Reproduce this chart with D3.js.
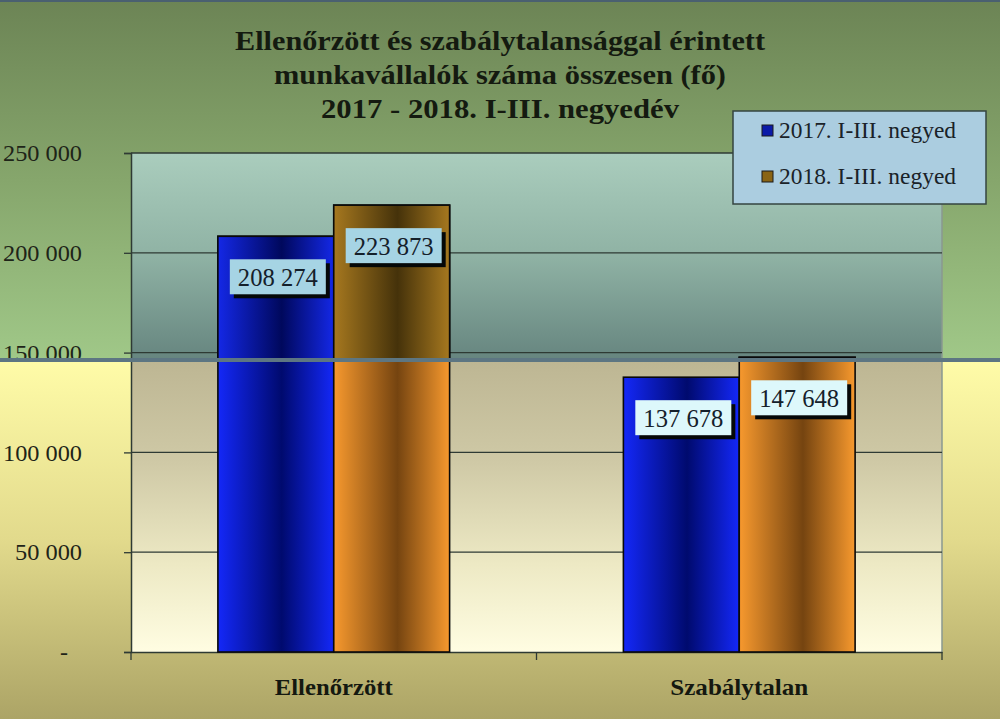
<!DOCTYPE html>
<html>
<head>
<meta charset="utf-8">
<script src="https://cdn.jsdelivr.net/npm/d3@7"></script>
<style>
  html, body { margin: 0; padding: 0; background: #fff; }
  svg { display: block; }
  text { font-family: 'Liberation Serif', 'Times New Roman', serif; }
</style>
</head>
<body>
<div id="chart"></div>
<script>
// data
const categories = ['Ellenőrzött', 'Szabálytalan'];
const seriesNames = ['2017. I-III. negyed', '2018. I-III. negyed'];
const values2017 = [208274, 137678];
const values2018 = [223873, 147648];
const yTicks = [0, 50000, 100000, 150000, 200000, 250000];
const titleLines = [
    'Ellenőrzött és szabálytalansággal érintett',
    'munkavállalók száma összesen (fő)',
    '2017 - 2018.  I-III. negyedév'
];

const W = 1000, H = 719;
const plot = {left: 131, right: 942, top: 153, bottom: 652};
const seamY = 360; // where the picture's colour tint changes

const svg = d3.select('#chart').append('svg')
    .attr('width', W).attr('height', H);
const defs = svg.append('defs');

function vGrad(id, stops) {
    const g = defs.append('linearGradient').attr('id', id)
        .attr('x1', 0).attr('y1', 0).attr('x2', 0).attr('y2', 1);
    stops.forEach(s => g.append('stop').attr('offset', s[0]).attr('stop-color', s[1]));
}
function hGrad(id, stops) {
    const g = defs.append('linearGradient').attr('id', id)
        .attr('x1', 0).attr('y1', 0).attr('x2', 1).attr('y2', 0);
    stops.forEach(s => g.append('stop').attr('offset', s[0]).attr('stop-color', s[1]));
}

vGrad('bgTop', [[0, '#6c8455'], [0.5, '#86a66c'], [1, '#a0c888']]);
vGrad('bgBottom', [[0, '#fffca8'], [0.5, '#e2da8c'], [1, '#aca466']]);
vGrad('plotTop', [[0, '#aacdbd'], [0.5, '#8fb2a4'], [1, '#66857f']]);
vGrad('plotBottom', [[0, '#bdb693'], [0.35, '#cfc9a6'], [0.7, '#ede9c4'], [1, '#fffde2']]);
hGrad('blueLow', [[0, '#1428f8'], [0.55, '#000a6e'], [1, '#1428f8']]);
hGrad('orangeLow', [[0, '#f7992e'], [0.55, '#754410'], [1, '#f7992e']]);
hGrad('blueHigh', [[0, '#1428e6'], [0.55, '#00085c'], [1, '#1428e6']]);
hGrad('orangeHigh', [[0, '#a6781f'], [0.55, '#45320a'], [1, '#a6781f']]);

defs.append('clipPath').attr('id', 'clipTop')
    .append('rect').attr('x', 0).attr('y', 0).attr('width', W).attr('height', seamY);

// scales
const x0 = d3.scaleBand().domain(categories).range([plot.left, plot.right]);
const x1 = d3.scaleBand().domain(seriesNames).range([0, x0.bandwidth()]).paddingOuter(0.75);
const y = d3.scaleLinear().domain([0, 250000]).range([plot.bottom, plot.top]);

const fmt = v => v === 0 ? '-' : d3.format(',')(v).replace(/,/g, ' ');

// backgrounds
svg.append('rect').attr('x', 0).attr('y', 0).attr('width', W).attr('height', seamY)
    .attr('fill', 'url(#bgTop)');
svg.append('rect').attr('x', 0).attr('y', seamY).attr('width', W).attr('height', H - seamY)
    .attr('fill', 'url(#bgBottom)');
svg.append('rect').attr('x', plot.left).attr('y', y(250000))
    .attr('width', plot.right - plot.left).attr('height', seamY - y(250000))
    .attr('fill', 'url(#plotTop)');
svg.append('rect').attr('x', plot.left).attr('y', seamY)
    .attr('width', plot.right - plot.left).attr('height', y(0) - seamY)
    .attr('fill', 'url(#plotBottom)');
svg.append('line').attr('x1', plot.right).attr('x2', plot.right)
    .attr('y1', y(250000)).attr('y2', y(0))
    .attr('stroke', '#8a9890').attr('stroke-width', 1.5);

// gridlines
svg.append('g')
    .selectAll('line').data(yTicks.filter(d => d > 0)).join('line')
    .attr('x1', plot.left).attr('x2', plot.right)
    .attr('y1', d => y(d)).attr('y2', d => y(d))
    .attr('stroke', '#2e3a34').attr('stroke-width', 1.3);

// y axis
const yAxis = svg.append('g')
    .attr('transform', `translate(${plot.left},0)`)
    .call(d3.axisLeft(y).tickValues(yTicks).tickFormat(fmt).tickSize(7).tickPadding(42));
yAxis.select('.domain').attr('stroke', '#2e3a34').attr('stroke-width', 1.5);
yAxis.selectAll('.tick line').attr('stroke', '#2e3a34').attr('stroke-width', 1.3);
yAxis.selectAll('.tick text')
    .attr('font-family', "'Liberation Serif', serif")
    .attr('font-size', 24).attr('fill', '#1e2418')
    .attr('textLength', d => d === 0 ? null : (d < 100000 ? 67 : 79))
    .attr('lengthAdjust', 'spacingAndGlyphs')
    .attr('dx', d => d === 0 ? -14 : 0);

// x axis
const xAxis = svg.append('g')
    .attr('transform', `translate(0,${plot.bottom})`)
    .call(d3.axisBottom(x0).tickSize(0).tickFormat(''));
xAxis.select('.domain').attr('stroke', '#2e3a34').attr('stroke-width', 1.5);
xAxis.selectAll('.sep').data([plot.left, x0(categories[1]), plot.right]).join('line')
    .attr('class', 'sep')
    .attr('x1', d => d).attr('x2', d => d).attr('y1', 0).attr('y2', 8)
    .attr('stroke', '#2e3a34').attr('stroke-width', 1.3);
svg.append('g').selectAll('text').data(categories).join('text')
    .attr('x', d => x0(d) + x0.bandwidth() / 2)
    .attr('y', 695)
    .attr('text-anchor', 'middle')
    .attr('font-size', 24).attr('font-weight', 'bold').attr('fill', '#141810')
    .attr('textLength', (d, i) => i === 0 ? 118 : 138)
    .attr('lengthAdjust', 'spacingAndGlyphs')
    .text(d => d);

// bars
const rows = categories.map((c, i) => [
    {cat: c, s: seriesNames[0], v: values2017[i], k: 'blue'},
    {cat: c, s: seriesNames[1], v: values2018[i], k: 'orange'}
]).flat();

function drawBars(g, suffix) {
    g.selectAll('rect').data(rows).join('rect')
        .attr('x', d => x0(d.cat) + x1(d.s))
        .attr('y', d => y(d.v))
        .attr('width', x1.bandwidth())
        .attr('height', d => y(0) - y(d.v))
        .attr('fill', d => `url(#${d.k}${suffix})`)
        .attr('stroke', '#0a0a0a').attr('stroke-width', 1.6);
}
drawBars(svg.append('g'), 'Low');
drawBars(svg.append('g').attr('clip-path', 'url(#clipTop)'), 'High');

// seam line
svg.append('line').attr('x1', 0).attr('x2', W).attr('y1', seamY).attr('y2', seamY)
    .attr('stroke', '#5d7682').attr('stroke-width', 4);

// value labels
const bw = 96, bh = 35;
const labels = svg.append('g').selectAll('g').data(rows).join('g')
    .attr('transform', d => `translate(${x0(d.cat) + x1(d.s) + x1.bandwidth() / 2 + 2 - bw / 2},${y(d.v) + 23})`);
labels.append('rect').attr('x', 4).attr('y', 4).attr('width', bw).attr('height', bh)
    .attr('fill', '#050808');
labels.append('rect').attr('width', bw).attr('height', bh)
    .attr('fill', d => y(d.v) + 23 + bh < seamY ? '#a6d4e4' : '#ddf8fb');
labels.append('text')
    .attr('x', bw / 2).attr('y', bh / 2 + 9)
    .attr('text-anchor', 'middle')
    .attr('font-size', 26).attr('fill', '#14202a')
    .attr('textLength', 80).attr('lengthAdjust', 'spacingAndGlyphs')
    .text(d => fmt(d.v));

// legend
const legend = svg.append('g').attr('transform', 'translate(733,111)');
legend.append('rect').attr('width', 253).attr('height', 93)
    .attr('fill', '#abcde0').attr('stroke', '#354440').attr('stroke-width', 1.5);
const swatch = ['#0a1aa8', '#8a6414'];
seriesNames.forEach((s, i) => {
    legend.append('rect').attr('x', 29).attr('y', 26 + i * 46 - 12)
        .attr('width', 11).attr('height', 11)
        .attr('fill', swatch[i]).attr('stroke', '#1a1a1a').attr('stroke-width', 1);
    legend.append('text').attr('x', 46).attr('y', 26 + i * 46 + 1)
        .attr('font-size', 23).attr('fill', '#1a2228')
        .attr('textLength', 177).attr('lengthAdjust', 'spacingAndGlyphs')
        .text(s);
});

// title
svg.append('g').selectAll('text').data(titleLines).join('text')
    .attr('x', 500)
    .attr('y', (d, i) => 50 + i * 34)
    .attr('text-anchor', 'middle')
    .attr('font-size', 28).attr('font-weight', 'bold').attr('fill', '#141a10')
    .attr('textLength', (d, i) => [530, 452, 358][i])
    .attr('lengthAdjust', 'spacingAndGlyphs')
    .text(d => d);

// top frame line
svg.append('line').attr('x1', 0).attr('x2', W).attr('y1', 1).attr('y2', 1)
    .attr('stroke', '#4a6070').attr('stroke-width', 2);
</script>
</body>
</html>
